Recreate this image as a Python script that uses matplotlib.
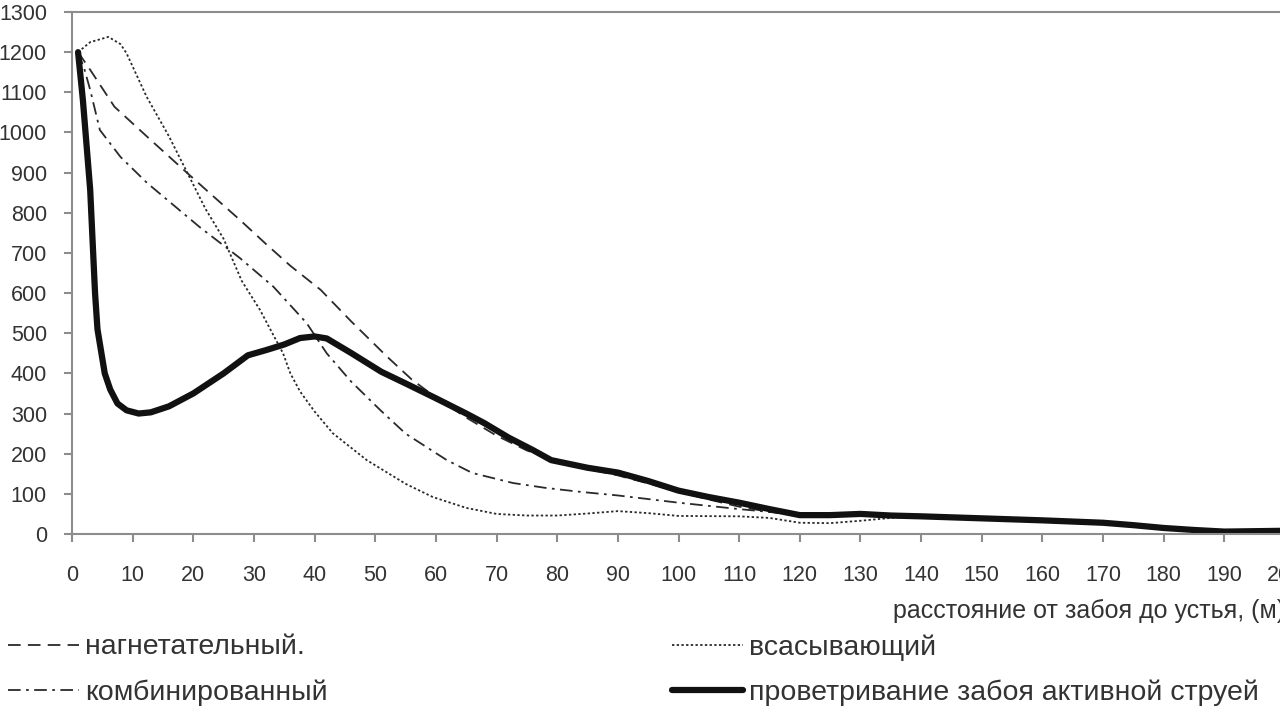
import matplotlib
matplotlib.use("Agg")
import matplotlib.pyplot as plt

plt.rcParams['font.family'] = ['Liberation Sans', 'DejaVu Sans']

# нагнетательный
x_nag = [1, 3, 7, 13, 19, 23, 27.7, 32, 36, 41, 46, 52, 56, 60, 65, 70, 75, 80, 85, 90, 95,
         100, 105, 110, 115, 120, 130, 140, 150, 160, 170, 180, 190, 200]
y_nag = [1200, 1156, 1064, 981, 899, 845, 782, 722, 668, 608, 530, 441, 385, 340, 290, 245,
         208, 182, 162, 146, 126, 105, 86, 68, 55, 48, 48, 44, 39, 34, 28, 15, 6, 8]

# всасывающий
x_vs = [1, 3, 6, 8, 9, 12.3, 16, 19, 22, 25, 28, 31, 34.8, 36, 37.6, 40, 43, 48.6, 55, 59.5,
        65, 70, 75, 80, 85, 90, 95, 100, 110, 115, 120, 125, 130, 135, 140, 150, 160, 170,
        180, 190, 200]
y_vs = [1200, 1225, 1238, 1220, 1197, 1089, 990, 900, 810, 735, 630, 558, 450, 400, 355,
        305, 251, 184, 125, 92, 65, 50, 46, 46, 51, 57, 52, 45, 44, 40, 28, 27, 33, 40, 44,
        39, 34, 28, 15, 6, 8]

# комбинированный
x_komb = [1, 2, 3, 4.6, 8, 12.4, 21, 27.7, 33.2, 38.7, 42, 46, 50.8, 55, 61.8, 66, 72.7,
          78, 83.8, 90, 100, 110, 115, 120, 130, 140, 150, 160, 170, 180, 190, 200]
y_komb = [1200, 1160, 1106, 1006, 939, 874, 765, 687, 616, 525, 450, 380, 309, 250, 184, 152,
          127, 115, 105, 96, 78, 62, 55, 48, 48, 44, 39, 34, 28, 15, 6, 8]

# проветривание забоя активной струей
x_akt = [1, 1.8, 3, 3.8, 4.2, 5.4, 6.3, 7.5, 9, 11, 13, 16, 20, 25, 29, 32, 35, 37.6, 40,
         42, 46, 51, 55, 60, 65, 68, 72, 76, 79, 85, 90, 95, 100, 105, 110, 115, 120, 125,
         130, 135, 140, 150, 160, 170, 175, 180, 185, 190, 200]
y_akt = [1200, 1080, 857, 600, 510, 400, 360, 325, 308, 300, 303, 318, 350, 400, 445, 458,
         472, 488, 492, 487, 451, 404, 375, 338, 300, 276, 240, 209, 184, 165, 153, 132,
         108, 92, 78, 62, 47, 47, 50, 46, 44, 39, 34, 28, 22, 15, 10, 6, 8]

x_ticks = list(range(0, 201, 10))
y_ticks = list(range(0, 1301, 100))

fig = plt.figure(figsize=(12.8, 7.2), dpi=100)
ax = fig.add_axes([72 / 1280, 186 / 720, 1213 / 1280, 522 / 720])

l_nag, = ax.plot(x_nag, y_nag, color='#2a2a2a', lw=1.3, ls=(0, (7, 4)))
l_vs, = ax.plot(x_vs, y_vs, color='#2a2a2a', lw=1.3, ls=(0, (1.3, 1.3)))
l_komb, = ax.plot(x_komb, y_komb, color='#2a2a2a', lw=1.3, ls=(0, (7, 3, 1.5, 3)))
l_akt, = ax.plot(x_akt, y_akt, color='#111111', lw=4.5, solid_capstyle='round')

ax.set_xlim(0, 200)
ax.set_ylim(0, 1300)
ax.set_xticks(x_ticks)
ax.set_yticks(y_ticks)
ax.spines['right'].set_visible(False)
for s in ['left', 'bottom', 'top']:
    ax.spines[s].set_color('#8c8c8c')
    ax.spines[s].set_linewidth(1.5)
ax.tick_params(axis='both', colors='#8c8c8c', length=6, width=1.5, labelcolor='#333333',
               labelsize=15.5)
ax.tick_params(axis='x', pad=16)
ax.tick_params(axis='y', pad=12)
ax.set_xlabel('расстояние от забоя до устья, (м)', loc='right', fontsize=18,
              color='#333333', labelpad=10)

leg_kw = dict(loc='center left', frameon=False, fontsize=20.5, handlelength=2.5,
              handletextpad=0.2, labelspacing=0.65, borderpad=0, borderaxespad=0,
              labelcolor='#333333')
leg1 = fig.legend([l_nag, l_komb], ['нагнетательный.', 'комбинированный'],
                  bbox_to_anchor=(8 / 1280, 50 / 720), **leg_kw)
leg2 = fig.legend([l_vs, l_akt], ['всасывающий', 'проветривание забоя активной струей'],
                  bbox_to_anchor=(672 / 1280, 50 / 720), **leg_kw)

fig.savefig('out.png', dpi=100)
